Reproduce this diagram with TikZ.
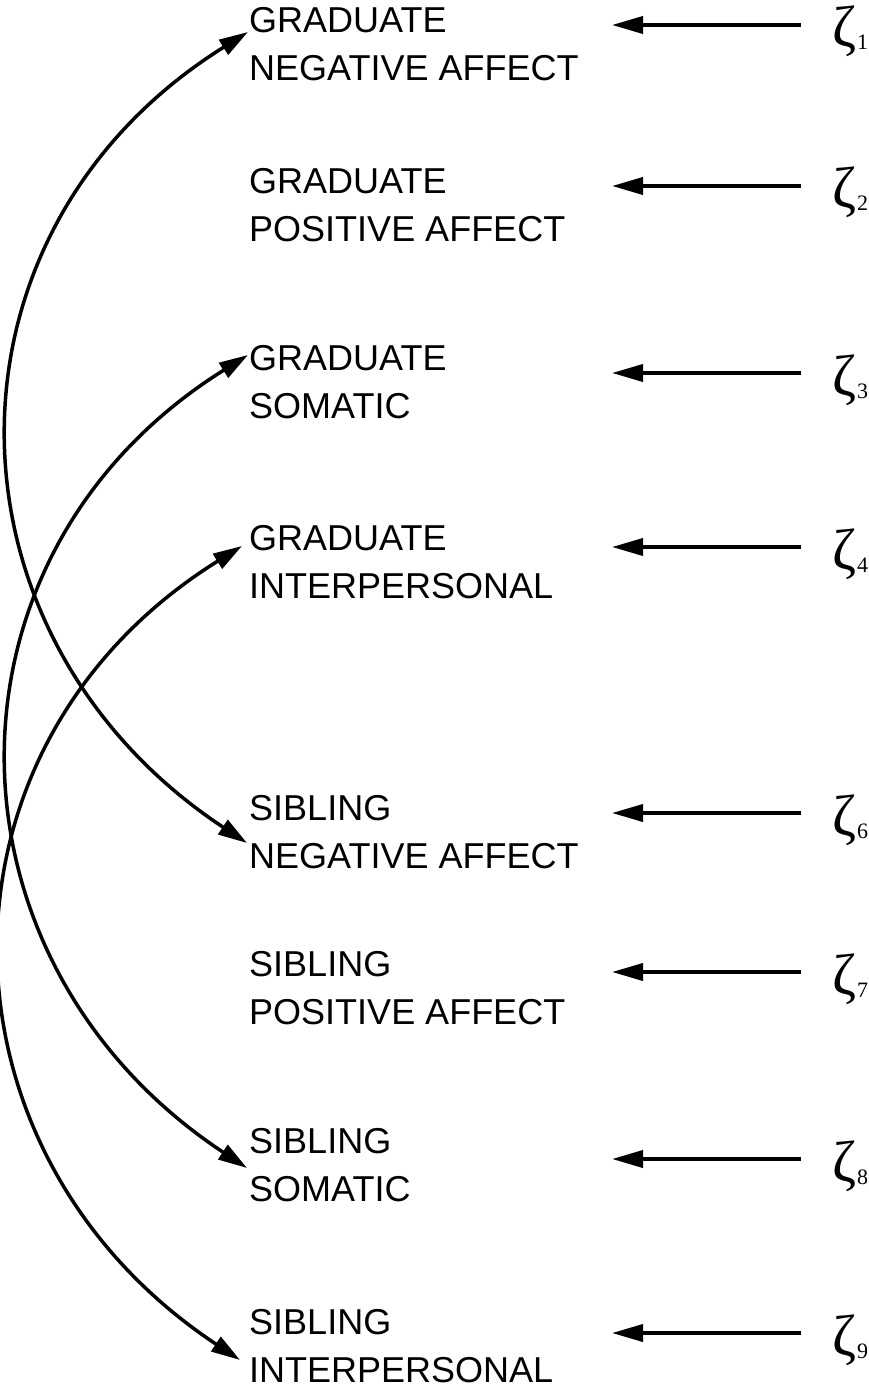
\documentclass[tikz,border=0pt]{standalone}
\usepackage{fontspec}
\setmainfont{Liberation Sans}
\newfontfamily\zfont{Liberation Serif}
\usetikzlibrary{arrows.meta}
\newcommand\zet[1]{{\zfont\fontsize{58}{58}\selectfont ζ}\kern1pt\raisebox{-3pt}{\zfont\fontsize{22}{22}\selectfont #1}}
\begin{document}
\begin{tikzpicture}[x=1pt,y=-1pt,
  lab/.style={anchor=north west, inner sep=0pt, align=left, font=\fontsize{36}{48.5}\selectfont},
  zeta/.style={anchor=base west, inner sep=0pt},
  arr/.style={line width=3.8pt, -{Triangle[length=31pt,width=17pt]}},
  darr/.style={line width=3.5pt, {Triangle[length=29pt,width=17pt]}-{Triangle[length=29pt,width=17pt]}}]
\useasboundingbox (0,0) rectangle (869,1388);
\clip (0,0) rectangle (869,1388);
\fill[white] (0,0) rectangle (869,1388);
% labels
\node[lab] (gna) at (249,7) {GRADUATE\\NEGATIVE AFFECT};
\node[lab] (gpa) at (249,168) {GRADUATE\\POSITIVE AFFECT};
\node[lab] (gso) at (249,345) {GRADUATE\\SOMATIC};
\node[lab] (gin) at (249,525) {GRADUATE\\INTERPERSONAL};
\node[lab] (sna) at (249,795) {SIBLING\\NEGATIVE AFFECT};
\node[lab] (spa) at (249,951) {SIBLING\\POSITIVE AFFECT};
\node[lab] (sso) at (249,1128) {SIBLING\\SOMATIC};
\node[lab] (sin) at (249,1309) {SIBLING\\INTERPERSONAL};
% zetas
\node[zeta] (z1) at (832,47) {\zet{1}};
\node[zeta] (z2) at (832,208) {\zet{2}};
\node[zeta] (z3) at (832,395) {\zet{3}};
\node[zeta] (z4) at (832,569) {\zet{4}};
\node[zeta] (z6) at (832,835) {\zet{6}};
\node[zeta] (z7) at (832,994) {\zet{7}};
\node[zeta] (z8) at (832,1181) {\zet{8}};
\node[zeta] (z9) at (832,1355) {\zet{9}};
% arrow tips
\coordinate (t1) at (612,25);
\coordinate (t2) at (612,186);
\coordinate (t3) at (612,373);
\coordinate (t4) at (612,547);
\coordinate (t6) at (612,813);
\coordinate (t7) at (612,972);
\coordinate (t8) at (612,1159);
\coordinate (t9) at (612,1333);
\foreach \i in {1,2,3,4,6,7,8,9}{
  \draw[arr, shorten <=31pt] (z\i.west |- t\i) -- (t\i);
}
% covariance curves
\coordinate (gna-p) at (248,32);
\coordinate (sna-p) at (247,843);
\coordinate (gso-p) at (248,355);
\coordinate (sso-p) at (247,1168);
\coordinate (gin-p) at (242,546);
\coordinate (sin-p) at (240,1360);
\draw[darr] (gna-p) .. controls (-72,232) and (-66,636) .. (sna-p);
\draw[darr] (gso-p) .. controls (-72,555) and (-66,961) .. (sso-p);
\draw[darr] (gin-p) .. controls (-79,746) and (-74,1152) .. (sin-p);
\end{tikzpicture}
\end{document}
